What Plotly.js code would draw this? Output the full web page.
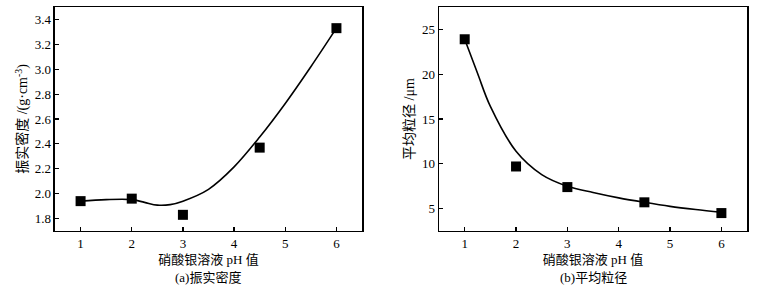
<!DOCTYPE html>
<html><head><meta charset="utf-8">
<script src="https://cdn.plot.ly/plotly-3.0.1.min.js"></script>
<style>html,body{margin:0;padding:0;background:#fff}#c{width:767px;height:285px}</style>
</head><body><div id="c"></div>
<script>
const ph = [1, 2, 3, 4.5, 6];
const density = [1.94, 1.96, 1.83, 2.37, 3.33];
const sizeUm = [23.9, 9.7, 7.4, 5.7, 4.5];
const fitXa = [1, 1.5, 2, 2.25, 2.5, 2.75, 3, 3.5, 4, 4.5, 5, 5.5, 6];
const densityFit = [1.94, 1.952, 1.952, 1.93, 1.908, 1.912, 1.94, 2.035, 2.215, 2.455, 2.725, 3.02, 3.33];
const fitXb = [1, 1.25, 1.5, 2, 2.5, 3, 3.5, 4, 4.5, 5, 5.5, 6];
const sizeFit = [23.9, 20.1, 16.4, 11.4, 8.8, 7.5, 6.8, 6.2, 5.7, 5.25, 4.9, 4.6];
const xTicks = [1, 2, 3, 4, 5, 6];

const serif = 'Liberation Serif, Times New Roman, serif';
const cjk = 'Liberation Serif, Noto Sans CJK SC, serif';
const lineStyle = {color: '#000', width: 1.6, shape: 'spline', smoothing: 1};
const mk = {symbol: 'square', size: 10, color: '#000'};

const traces = [
  {x: fitXa, y: densityFit, mode: 'lines', line: lineStyle, xaxis: 'x', yaxis: 'y', hoverinfo: 'skip'},
  {x: ph, y: density, mode: 'markers', marker: mk, xaxis: 'x', yaxis: 'y'},
  {x: fitXb, y: sizeFit, mode: 'lines', line: lineStyle, xaxis: 'x2', yaxis: 'y2', hoverinfo: 'skip'},
  {x: ph, y: sizeUm, mode: 'markers', marker: mk, xaxis: 'x2', yaxis: 'y2'}
];

const axBase = {
  showline: true, linecolor: '#000', linewidth: 1.5, mirror: true,
  ticks: 'inside', ticklen: 4, tickwidth: 1.2, tickcolor: '#000',
  showgrid: false, zeroline: false,
  tickfont: {family: serif, size: 13, color: '#000'}
};
const xAx = (dom, anchor) => Object.assign({}, axBase, {
  domain: dom, anchor: anchor, range: [0.5, 6.5], tickvals: xTicks,
  title: {text: '硝酸银溶液 pH 值', font: {family: cjk, size: 13, color: '#000'}, standoff: 5}
});

const layout = {
  width: 767, height: 285,
  margin: {l: 0, r: 0, t: 0, b: 0},
  paper_bgcolor: '#fff', plot_bgcolor: '#fff',
  showlegend: false,
  xaxis: xAx([0.0717, 0.472], 'y'),
  yaxis: Object.assign({}, axBase, {
    domain: [0.1895, 0.9754], anchor: 'x', range: [1.7, 3.5],
    tickvals: [1.8, 2.0, 2.2, 2.4, 2.6, 2.8, 3.0, 3.2, 3.4],
    ticktext: ['1.8', '2.0', '2.2', '2.4', '2.6', '2.8', '3.0', '3.2', '3.4'],
    title: {text: '振实密度 /(g·cm<sup>-3</sup>)', font: {family: cjk, size: 14, color: '#000'}, standoff: 3}
  }),
  xaxis2: xAx([0.5724, 0.974], 'y2'),
  yaxis2: Object.assign({}, axBase, {
    domain: [0.1895, 0.9754], anchor: 'x2', range: [2.5, 27.5],
    tickvals: [5, 10, 15, 20, 25],
    title: {text: '平均粒径 /μm', font: {family: cjk, size: 14, color: '#000'}, standoff: 4}
  }),
  annotations: [
    {text: '(a)振实密度', xref: 'paper', yref: 'paper', x: 208/767, y: 1 - 277/285, xanchor: 'center', yanchor: 'middle', showarrow: false, font: {family: cjk, size: 13, color: '#000'}},
    {text: '(b)平均粒径', xref: 'paper', yref: 'paper', x: 593/767, y: 1 - 277/285, xanchor: 'center', yanchor: 'middle', showarrow: false, font: {family: cjk, size: 13, color: '#000'}}
  ]
};

Plotly.newPlot('c', traces, layout, {staticPlot: true, displayModeBar: false});
</script></body></html>
